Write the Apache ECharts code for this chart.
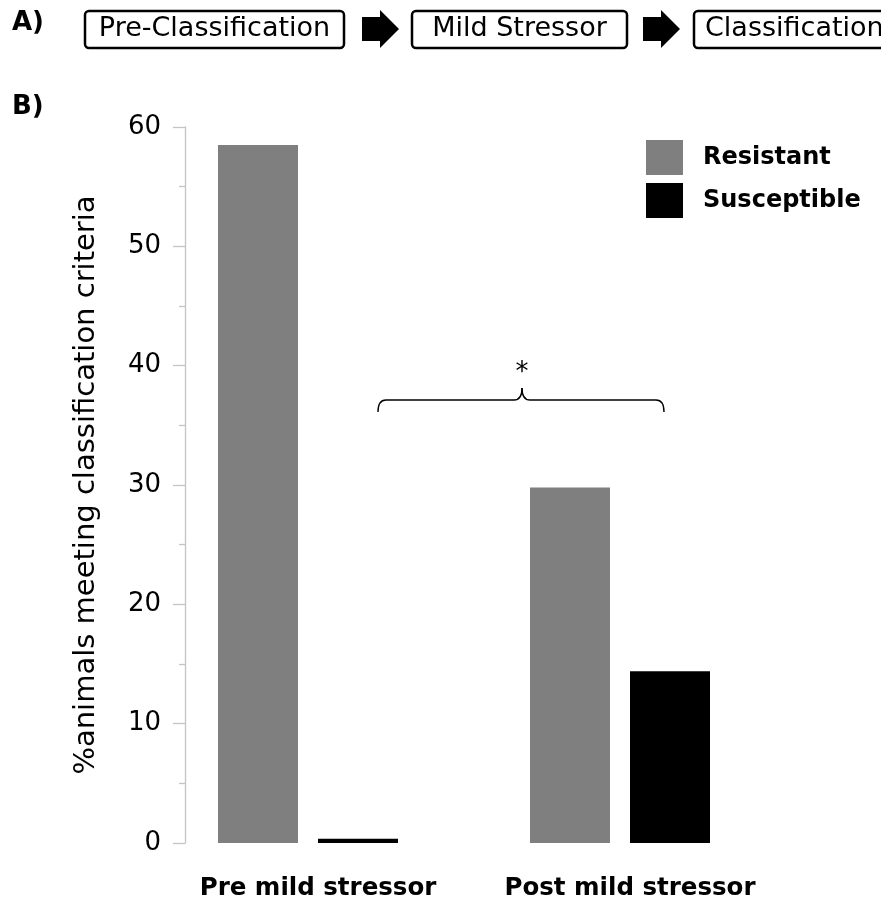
<!DOCTYPE html>
<html>
<head>
<meta charset="utf-8">
<script src="https://cdn.jsdelivr.net/npm/echarts@6/dist/echarts.min.js"></script>
<style>
  html, body { margin: 0; padding: 0; background: #fff; }
  #chart { width: 881px; height: 902px; }
</style>
</head>
<body>
<div id="chart"></div>
<script>
// Groups on the x axis
const categories = ['Pre mild stressor', 'Post mild stressor'];
// % of animals meeting each classification criterion
const resistant = [58.5, 29.8];
const susceptible = [0.35, 14.4];
// y-axis range and step
const yMin = 0, yMax = 60, yStep = 10;
// Protocol steps shown across the top
const steps = ['Pre-Classification', 'Mild Stressor', 'Classification'];

const FONT = '"DejaVu Sans", Verdana, sans-serif';
const chart = echarts.init(document.getElementById('chart'), null, { renderer: 'canvas' });

// Rounded step boxes and block arrows for panel A
const stepBoxes = [
  { x: 85, w: 259, cx: 214.5, align: 'center' },
  { x: 412, w: 215, cx: 519.5, align: 'center' },
  { x: 694, w: 220, cx: 705, align: 'left' }
];
const arrowXs = [362, 643];
const g = [];
g.push({ type: 'text', x: 12, y: 23,
  style: { text: 'A)', font: 'bold 26px ' + FONT, fill: '#000', verticalAlign: 'middle' } });
g.push({ type: 'text', x: 12, y: 107,
  style: { text: 'B)', font: 'bold 26px ' + FONT, fill: '#000', verticalAlign: 'middle' } });
stepBoxes.forEach((b, i) => {
  g.push({ type: 'rect', shape: { x: b.x, y: 11, width: b.w, height: 37, r: 4 },
    style: { fill: '#fff', stroke: '#000', lineWidth: 2.5 } });
  g.push({ type: 'text', x: b.cx, y: 29,
    style: { text: steps[i], font: '27px ' + FONT, fill: '#000',
      align: b.align, verticalAlign: 'middle' } });
});
arrowXs.forEach(ax => {
  g.push({ type: 'polygon',
    shape: { points: [[ax, 17], [ax + 18, 17], [ax + 18, 10], [ax + 37, 29], [ax + 18, 48], [ax + 18, 41], [ax, 41]] },
    style: { fill: '#000' } });
});

// Significance bracket spanning the two groups
const bY = 400, bxL = 378, bxR = 664, bxM = 522;
const bStyle = { fill: 'none', stroke: '#000', lineWidth: 1.4 };
g.push({ type: 'bezierCurve', shape: { x1: bxL, y1: bY + 12, cpx1: bxL, cpy1: bY, x2: bxL + 8, y2: bY }, style: bStyle });
g.push({ type: 'line', shape: { x1: bxL + 8, y1: bY, x2: bxM - 8, y2: bY }, style: bStyle });
g.push({ type: 'bezierCurve', shape: { x1: bxM - 8, y1: bY, cpx1: bxM, cpy1: bY, x2: bxM, y2: bY - 12 }, style: bStyle });
g.push({ type: 'bezierCurve', shape: { x1: bxM, y1: bY - 12, cpx1: bxM, cpy1: bY, x2: bxM + 8, y2: bY }, style: bStyle });
g.push({ type: 'line', shape: { x1: bxM + 8, y1: bY, x2: bxR - 8, y2: bY }, style: bStyle });
g.push({ type: 'bezierCurve', shape: { x1: bxR - 8, y1: bY, cpx1: bxR, cpy1: bY, x2: bxR, y2: bY + 12 }, style: bStyle });
g.push({ type: 'text', x: bxM, y: 373,
  style: { text: '*', font: '26px ' + FONT, fill: '#000', align: 'center', verticalAlign: 'middle' } });

chart.setOption({
  animation: false,
  backgroundColor: '#fff',
  grid: { left: 152, right: 105, top: 127, bottom: 59, containLabel: false },
  legend: {
    orient: 'vertical', left: 646, top: 140, padding: 0,
    itemWidth: 37, itemHeight: 35, itemGap: 8, icon: 'rect',
    textStyle: { fontFamily: FONT, fontWeight: 'bold', fontSize: 24, color: '#000', padding: [0, 0, 0, 15] },
    data: ['Resistant', 'Susceptible']
  },
  xAxis: {
    type: 'category', data: categories,
    axisLine: { show: false }, axisTick: { show: false },
    axisLabel: { interval: 0, fontFamily: FONT, fontWeight: 'bold', fontSize: 24.5, color: '#000',
      margin: 33, padding: [0, 0, 0, 20] }
  },
  yAxis: {
    type: 'value', min: yMin, max: yMax, interval: yStep, offset: -33,
    name: '%animals meeting classification criteria', nameLocation: 'middle', nameGap: 84,
    nameTextStyle: { fontFamily: FONT, fontSize: 29, color: '#000' },
    axisLine: { show: true, lineStyle: { color: '#c4c4c4', width: 1.3 } },
    axisTick: { show: true, length: 12, lineStyle: { color: '#c4c4c4', width: 1.3 } },
    minorTick: { show: true, splitNumber: 2, length: 6, lineStyle: { color: '#c4c4c4', width: 1.3 } },
    splitLine: { show: false },
    axisLabel: { fontFamily: FONT, fontSize: 26, color: '#000', margin: 24 }
  },
  series: [
    { name: 'Resistant', type: 'bar', data: resistant, barWidth: 80, barGap: '25%',
      itemStyle: { color: '#7f7f7f' } },
    { name: 'Susceptible', type: 'bar', data: susceptible, barWidth: 80,
      itemStyle: { color: '#000' } }
  ],
  graphic: g
});
</script>
</body>
</html>
